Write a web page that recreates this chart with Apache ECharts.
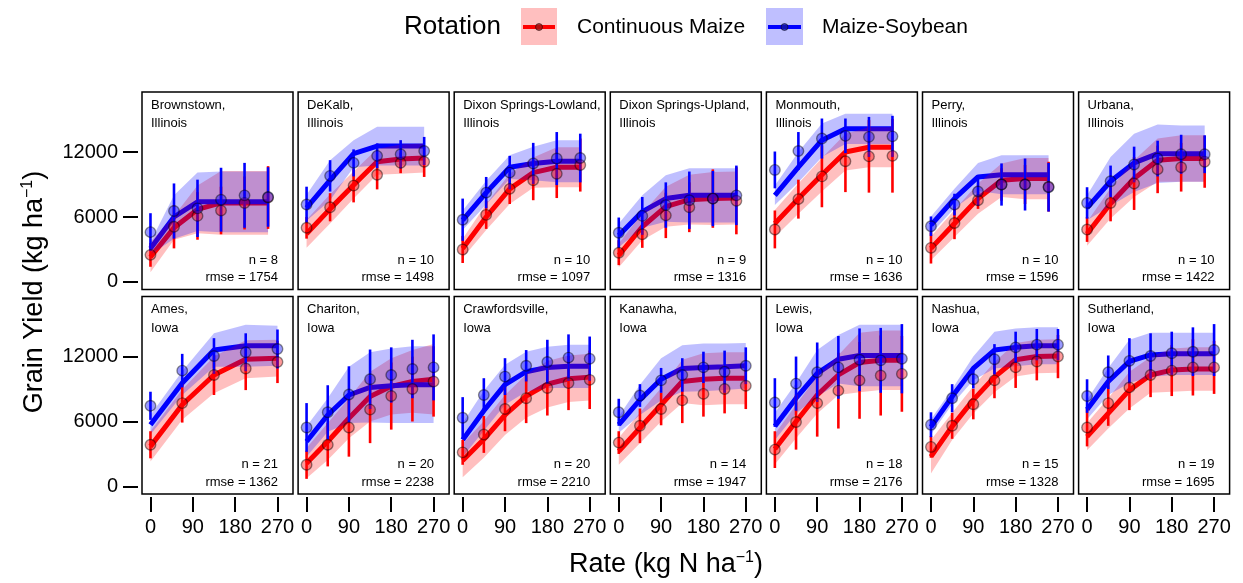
<!DOCTYPE html>
<html>
<head>
<meta charset="utf-8">
<script src="https://cdn.jsdelivr.net/npm/echarts@6/dist/echarts.min.js"></script>
<style>
  html, body { margin: 0; padding: 0; background: #fff; }
  #chart { width: 1243px; height: 583px; }
</style>
</head>
<body>
<div id="chart"></div>
<script>
// N rates (kg N/ha) used at each group of sites
var ratesIL = [0, 50, 100, 150, 200, 250];
var ratesAmes = [0, 67.5, 135, 202.5, 270];
var ratesIA = [0, 45, 90, 135, 180, 225, 270];

var sites = ['Brownstown', 'DeKalb', 'Dixon Springs-Lowland', 'Dixon Springs-Upland', 'Monmouth', 'Perry', 'Urbana',
             'Ames', 'Chariton', 'Crawfordsville', 'Kanawha', 'Lewis', 'Nashua', 'Sutherland'];
var states = ['Illinois', 'Illinois', 'Illinois', 'Illinois', 'Illinois', 'Illinois', 'Illinois',
              'Iowa', 'Iowa', 'Iowa', 'Iowa', 'Iowa', 'Iowa', 'Iowa'];
var nObs = [8, 10, 10, 9, 10, 10, 10, 21, 20, 20, 14, 18, 15, 19];
var rmse = [1754, 1498, 1097, 1316, 1636, 1596, 1422, 1362, 2238, 2210, 1947, 2176, 1328, 1695];

var xTicks = [0, 90, 180, 270];
var yTicks = [0, 6000, 12000];

// Continuous Maize: observed mean, error bar half-width, fitted value, confidence band half-width
var cmMean = [
  [2500, 5100, 6100, 6600, 7300, 7800],
  [5000, 6900, 8900, 9900, 11000, 11100],
  [3000, 6200, 8600, 9400, 10000, 10800],
  [2700, 4400, 6150, 6900, 7700, 7500],
  [4850, 7650, 9750, 11150, 11600, 11650],
  [3150, 5450, 7550, 9000, 9000, 8800],
  [4850, 7300, 9100, 10400, 10600, 11100],
  [3850, 7700, 10300, 10900, 11500],
  [2000, 3850, 5450, 7100, 8350, 9000, 9700],
  [3150, 4800, 7150, 8150, 9100, 9550, 9850],
  [4050, 5600, 7150, 7950, 8550, 9000, 9300],
  [3400, 5950, 7700, 8850, 9800, 10250, 10400],
  [3650, 5600, 7600, 9800, 11000, 11550, 12000],
  [5450, 7700, 9150, 10300, 10700, 11000, 11000]
];
var cmErr = [
  [1100, 2000, 2200, 2200, 2450, 2900],
  [1000, 1300, 1550, 1350, 950, 1400],
  [1250, 1300, 1400, 1850, 2250, 2450],
  [1150, 1250, 2100, 2300, 2700, 3100],
  [1750, 1800, 2850, 2850, 3350, 3400],
  [1450, 1500, 800, 1500, 1800, 2300],
  [1150, 1700, 2450, 2200, 2250, 2400],
  [1250, 1800, 1850, 2000, 1950],
  [1300, 2000, 2700, 3100, 3100, 3000, 3250],
  [1150, 1700, 2050, 2300, 2550, 2500, 2700],
  [1050, 1600, 1500, 2100, 2100, 2250, 2150],
  [1700, 2550, 3100, 3500, 3550, 3700, 3500],
  [1000, 1200, 1400, 1650, 1900, 1750, 2000],
  [1750, 2100, 2100, 2050, 2350, 2600, 2450]
];
var cmFit = [
  [2300, 5000, 6700, 7300, 7300, 7300],
  [4450, 6750, 8950, 11100, 11350, 11450],
  [3100, 6000, 8600, 10100, 10600, 10600],
  [2450, 5100, 6950, 7600, 7700, 7750],
  [5400, 7700, 9900, 12000, 12450, 12450],
  [3100, 5400, 7700, 9400, 9550, 9550],
  [4450, 7250, 9550, 11250, 11400, 11400],
  [3700, 7550, 10300, 11750, 11850],
  [2150, 4150, 6300, 8300, 9250, 9700, 9900],
  [2400, 4350, 6600, 8350, 9450, 9950, 10100],
  [3250, 5400, 7550, 9700, 9900, 10000, 10000],
  [3450, 6000, 8450, 10300, 11450, 11650, 11650],
  [2750, 5550, 8000, 10100, 11700, 12000, 12050],
  [4600, 6750, 8900, 10300, 10750, 10850, 10850]
];
var cmBand = [
  [1400, 1100, 2200, 2950, 2950, 2950],
  [1300, 1350, 1250, 1200, 1350, 1350],
  [900, 1200, 1400, 1400, 1850, 1850],
  [1100, 1250, 1850, 2300, 2450, 2450],
  [1250, 1400, 1550, 1700, 1850, 1850],
  [1100, 1250, 1400, 1550, 1900, 1900],
  [1100, 1400, 1700, 2000, 2150, 2150],
  [1400, 1400, 1700, 1750, 1700],
  [1400, 1700, 1850, 2300, 2600, 2900, 3250],
  [1550, 1700, 1850, 2000, 2150, 2150, 2150],
  [1250, 1400, 1550, 2000, 2400, 2400, 2400],
  [1400, 1550, 1700, 1850, 2750, 2750, 2750],
  [1550, 1250, 1250, 1400, 1550, 1550, 1550],
  [1250, 1400, 1700, 1650, 2000, 2000, 2000]
];

// Maize-Soybean
var msMean = [
  [4600, 6550, 6800, 7600, 8000, 7850],
  [7150, 9800, 11000, 11650, 11800, 12100],
  [5750, 8250, 10100, 10950, 11400, 11450],
  [4550, 6100, 7100, 7550, 7700, 8000],
  [10350, 12100, 13250, 13500, 13400, 13450],
  [5150, 7150, 8350, 9000, 9000, 8750],
  [7300, 9300, 10850, 11400, 11800, 11800],
  [7450, 10700, 12050, 12400, 12700],
  [5450, 6850, 8500, 9900, 10300, 10850, 11000],
  [6350, 8450, 10150, 11150, 11500, 11900, 11800],
  [6850, 8400, 9800, 10300, 11000, 10600, 11150],
  [7750, 9500, 10550, 11000, 11700, 11650, 11800],
  [5700, 8150, 9900, 11750, 12850, 13100, 13100],
  [8350, 10550, 11600, 12050, 12300, 12450, 12600]
];
var msErr = [
  [1750, 2550, 2650, 2950, 3000, 2750],
  [1650, 1450, 1250, 1150, 1300, 1300],
  [1950, 1450, 1550, 1900, 2450, 2250],
  [1400, 1750, 2100, 2650, 2550, 2750],
  [1700, 1750, 1850, 1600, 1850, 1900],
  [900, 1000, 1300, 1950, 2400, 2250],
  [1450, 1450, 1650, 1650, 1800, 1750],
  [1300, 1550, 1650, 1750, 1800],
  [2250, 2500, 2600, 2750, 2550, 2700, 3050],
  [1900, 1550, 1700, 1450, 2050, 2150, 2050],
  [1250, 1050, 1150, 1550, 1450, 1950, 1700],
  [2250, 2500, 2750, 2900, 2900, 3000, 3200],
  [1150, 1300, 850, 1400, 1450, 1450, 1450],
  [1550, 1550, 2100, 2100, 2000, 2250, 2400]
];
var msFit = [
  [3100, 6000, 7400, 7400, 7400, 7400],
  [6850, 9400, 11850, 12550, 12550, 12550],
  [5700, 8250, 10600, 10950, 11150, 11150],
  [4300, 6500, 7700, 8000, 8000, 8000],
  [8000, 10600, 13100, 14150, 14150, 14150],
  [5250, 7700, 9700, 9900, 9900, 9900],
  [6850, 9300, 11000, 11850, 11850, 11850],
  [5700, 9550, 12600, 13000, 13000],
  [4150, 6600, 8450, 9150, 9300, 9400, 9400],
  [4300, 7000, 9400, 10600, 11000, 11100, 11100],
  [5700, 8000, 9900, 10900, 11000, 11050, 11150],
  [5550, 8150, 10450, 11750, 12100, 12100, 12100],
  [5500, 8300, 10900, 12600, 12850, 13000, 13000],
  [7100, 9700, 11550, 12150, 12250, 12250, 12250]
];
var msBand = [
  [600, 2000, 2700, 2800, 2800, 2800],
  [1200, 1850, 1250, 1800, 1800, 1800],
  [900, 1100, 1100, 1550, 1950, 1950],
  [1100, 1500, 2150, 2500, 2500, 2500],
  [900, 1400, 1550, 1400, 1400, 1400],
  [800, 900, 1300, 1800, 1800, 1800],
  [1150, 2250, 2700, 2700, 2600, 2600],
  [900, 1100, 1550, 1950, 1850],
  [1400, 1550, 2600, 3250, 3450, 3550, 3550],
  [1550, 1850, 1850, 1850, 1900, 2000, 2000],
  [750, 1400, 1950, 2150, 2200, 2150, 2100],
  [1250, 1400, 2150, 2250, 2850, 2850, 2850],
  [700, 700, 1100, 1700, 1750, 1700, 1700],
  [900, 1250, 2000, 2050, 1950, 1950, 1950]
];

var FONT = '"Liberation Sans", Arial, sans-serif';
var RED = '#ff0000', BLUE = '#0000ff';
var PANEL_W = 151, PANEL_H = 197.5, COL_STEP = 156.1;

function ratesFor(i) {
  if (i < 7) return ratesIL;
  if (i === 7) return ratesAmes;
  return ratesIA;
}

// ribbon drawn as one polygon through the axis scales
function bandRenderer(rows, fill) {
  return function (params, api) {
    if (params.dataIndex !== 0) return null;
    var upper = rows.map(function (r) { return api.coord([r[0], r[2]]); });
    var lower = rows.map(function (r) { return api.coord([r[0], r[1]]); }).reverse();
    return { type: 'polygon', shape: { points: upper.concat(lower) }, style: { fill: fill } };
  };
}

function errRenderer(color) {
  return function (params, api) {
    var p1 = api.coord([api.value(0), api.value(1)]);
    var p2 = api.coord([api.value(0), api.value(2)]);
    return { type: 'line', shape: { x1: p1[0], y1: p1[1], x2: p2[0], y2: p2[1] },
             style: { stroke: color, lineWidth: 2.6 } };
  };
}

function buildOption() {
  var grids = [], xAxes = [], yAxes = [], series = [], graphics = [];

  for (var i = 0; i < 14; i++) {
    var row = Math.floor(i / 7), col = i % 7;
    var gLeft = 142 + col * COL_STEP;
    var gTop = row === 0 ? 92 : 296.5;
    var xs = ratesFor(i);

    grids.push({ left: gLeft, top: gTop, width: PANEL_W, height: PANEL_H, show: true,
                 borderColor: '#000', borderWidth: 1.5, outerBoundsMode: 'none' });

    xAxes.push({
      gridIndex: i, type: 'value', min: -18, max: 303, offset: 3,
      splitLine: { show: false }, axisLine: { show: false, onZero: false },
      axisTick: { show: row === 1, inside: false, length: 15, customValues: xTicks, lineStyle: { color: '#000', width: 2 } },
      axisLabel: { show: row === 1, customValues: xTicks, margin: 20, fontSize: 20, color: '#000', fontFamily: FONT }
    });
    yAxes.push({
      gridIndex: i, type: 'value', min: -700, max: 17550, offset: 4,
      splitLine: { show: false }, axisLine: { show: false, onZero: false },
      axisTick: { show: col === 0, inside: false, length: 15, customValues: yTicks, lineStyle: { color: '#000', width: 2 } },
      axisLabel: { show: col === 0, customValues: yTicks, margin: 20, fontSize: 20, color: '#000', fontFamily: FONT,
                   formatter: function (v) { return String(v); } }
    });

    var groups = [
      { mean: cmMean[i], err: cmErr[i], fit: cmFit[i], band: cmBand[i], color: RED,
        fill: 'rgba(255,0,0,0.25)', pt: 'rgba(255,0,0,0.5)', zErr: 4 },
      { mean: msMean[i], err: msErr[i], fit: msFit[i], band: msBand[i], color: BLUE,
        fill: 'rgba(0,0,255,0.25)', pt: 'rgba(0,0,255,0.5)', zErr: 5 }
    ];

    groups.forEach(function (g) {
      var fitData = xs.map(function (x, j) { return [x, g.fit[j]]; });
      var bandData = xs.map(function (x, j) { return [x, g.fit[j] - g.band[j], g.fit[j] + g.band[j]]; });
      var errData = xs.map(function (x, j) { return [x, g.mean[j] - g.err[j], g.mean[j] + g.err[j]]; });
      var ptData = xs.map(function (x, j) { return [x, g.mean[j]]; });

      series.push({
        type: 'line', xAxisIndex: i, yAxisIndex: i, data: fitData, z: 2,
        showSymbol: false, silent: true, lineStyle: { color: g.color, width: 5 }
      });
      series.push({
        type: 'custom', xAxisIndex: i, yAxisIndex: i, data: bandData, z: 3, silent: true,
        renderItem: bandRenderer(bandData, g.fill)
      });
      series.push({
        type: 'custom', xAxisIndex: i, yAxisIndex: i, data: errData, z: g.zErr, silent: true,
        renderItem: errRenderer(g.color)
      });
      series.push({
        type: 'scatter', xAxisIndex: i, yAxisIndex: i, data: ptData, z: 6, silent: true,
        symbolSize: 10.5,
        itemStyle: { color: g.pt, borderColor: 'rgba(0,0,0,0.55)', borderWidth: 1.4 }
      });
    });

    graphics.push({
      type: 'text', x: gLeft + 9, y: gTop + 4, z: 10,
      style: { text: sites[i] + ',\n' + states[i], font: '13px ' + FONT, lineHeight: 18.5,
               fill: '#000', align: 'left', verticalAlign: 'top' }
    });
    graphics.push({
      type: 'text', x: gLeft + PANEL_W - 15, y: gTop + PANEL_H - 3, z: 10,
      style: { text: 'n = ' + nObs[i] + '\nrmse = ' + rmse[i], font: '13px ' + FONT, lineHeight: 17.5,
               fill: '#000', align: 'right', verticalAlign: 'bottom' }
    });
  }

  // legend
  graphics.push(
    { type: 'text', x: 404, y: 27, style: { text: 'Rotation', font: '26px ' + FONT, fill: '#000', verticalAlign: 'middle' } },
    { type: 'rect', shape: { x: 521, y: 8, width: 36, height: 37 }, style: { fill: 'rgba(255,0,0,0.25)' } },
    { type: 'line', shape: { x1: 523, y1: 27, x2: 555, y2: 27 }, style: { stroke: RED, lineWidth: 4 } },
    { type: 'circle', shape: { cx: 539, cy: 27, r: 3.5 }, style: { fill: 'rgba(160,20,20,0.8)', stroke: 'rgba(0,0,0,0.5)', lineWidth: 1 } },
    { type: 'text', x: 577, y: 27, style: { text: 'Continuous Maize', font: '21px ' + FONT, fill: '#000', verticalAlign: 'middle' } },
    { type: 'rect', shape: { x: 766, y: 8, width: 37, height: 37 }, style: { fill: 'rgba(0,0,255,0.25)' } },
    { type: 'line', shape: { x1: 768, y1: 27, x2: 801, y2: 27 }, style: { stroke: BLUE, lineWidth: 4 } },
    { type: 'circle', shape: { cx: 784.5, cy: 27, r: 3.5 }, style: { fill: 'rgba(20,20,160,0.8)', stroke: 'rgba(0,0,0,0.5)', lineWidth: 1 } },
    { type: 'text', x: 822, y: 27, style: { text: 'Maize-Soybean', font: '21px ' + FONT, fill: '#000', verticalAlign: 'middle' } }
  );

  // axis titles
  var titleRich = {
    a: { fontSize: 27, fontFamily: FONT, lineHeight: 31, color: '#000' },
    s: { fontSize: 16, fontFamily: FONT, lineHeight: 31, verticalAlign: 'top', color: '#000' }
  };
  graphics.push(
    { type: 'text', x: 35, y: 292, rotation: Math.PI / 2,
      style: { text: '{a|Grain Yield (kg ha}{s|\u22121}{a|)}', rich: titleRich, align: 'center', verticalAlign: 'middle' } },
    { type: 'text', x: 666, y: 565,
      style: { text: '{a|Rate (kg N ha}{s|\u22121}{a|)}', rich: titleRich, align: 'center', verticalAlign: 'middle' } }
  );

  return { animation: false, grid: grids, xAxis: xAxes, yAxis: yAxes, series: series, graphic: graphics };
}

var myChart = echarts.init(document.getElementById('chart'));
myChart.setOption(buildOption());
</script>
</body>
</html>
